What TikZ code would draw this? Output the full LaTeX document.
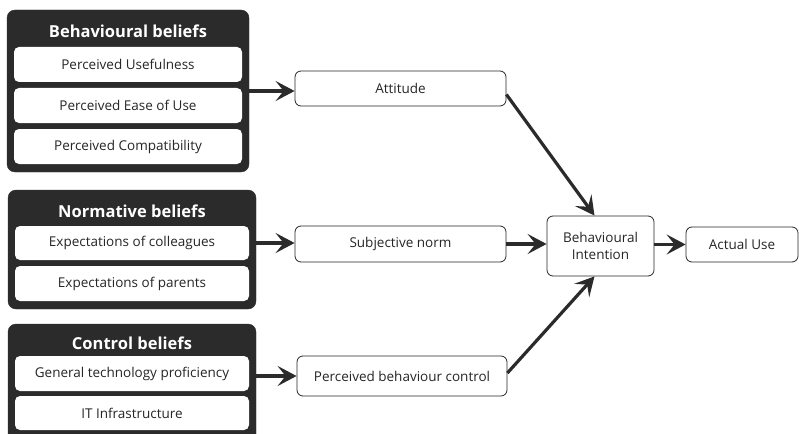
\documentclass[tikz,border=0pt]{standalone}
\usepackage{fontspec}
\setmainfont{Open Sans}
\usetikzlibrary{arrows.meta}
\definecolor{darkbg}{HTML}{2B2B2B}
\definecolor{txt}{HTML}{262626}
\tikzset{
  group/.style={fill=darkbg, draw=darkbg, rounded corners=8pt},
  inner/.style={fill=white, draw=none, rounded corners=5pt, text=txt, font=\fontsize{13.5}{15}\selectfont},
  title/.style={text=white, font=\bfseries\fontsize{16.5}{18}\selectfont},
  cbox/.style={fill=white, draw=txt, line width=0.8pt, rounded corners=6pt, text=txt, font=\fontsize{13.5}{17}\selectfont, align=center},
  conn/.style={line width=3.2pt, draw=darkbg, -{Stealth[length=19pt,width=20pt,inset=8pt]}}
}
\begin{document}
\begin{tikzpicture}[x=1pt,y=-1pt]
\useasboundingbox (0,0) rectangle (799,433);
% group 1
\path[group] (7,10) rectangle (249,172);
\node[title] (t1) at (128,31) {Behavioural beliefs};
\path[inner] (14,47) rectangle (242,82); \node[inner] (pu) at (128,64.5) {Perceived Usefulness};
\path[inner] (14,88) rectangle (242,123); \node[inner] (peou) at (128,105.5) {Perceived Ease of Use};
\path[inner] (14,129) rectangle (242,164); \node[inner] (pc) at (128,146.5) {Perceived Compatibility};
\coordinate (g1) at (249,91);
% group 2
\path[group] (8,190) rectangle (256,309);
\node[title] (t2) at (132,211) {Normative beliefs};
\path[inner] (15,226) rectangle (249,260); \node[inner] (eoc) at (132,243) {Expectations of colleagues};
\path[inner] (15,266) rectangle (249,301); \node[inner] (eop) at (132,283.5) {Expectations of parents};
\coordinate (g2) at (256,243);
% group 3
\path[group] (8,324) rectangle (256,445);
\node[title] (t3) at (132,343) {Control beliefs};
\path[inner] (15,356) rectangle (249,391); \node[inner] (gtp) at (132,373.5) {General technology proficiency};
\path[inner] (15,396) rectangle (249,430); \node[inner] (it) at (132,413) {IT Infrastructure};
\coordinate (g3) at (256,376);
% constructs
\node[cbox, minimum width=211pt, minimum height=35pt] (att) at (400.5,88.5) {Attitude};
\node[cbox, minimum width=211pt, minimum height=36pt] (sn) at (400.5,244) {Subjective norm};
\node[cbox, minimum width=210pt, minimum height=40pt] (pbc) at (402,376) {Perceived behaviour control};
\node[cbox, minimum width=107pt, minimum height=60pt] (bi) at (600.5,246) {Behavioural\\Intention};
\node[cbox, minimum width=112pt, minimum height=35pt] (au) at (742,244.5) {Actual Use};
% connectors
\draw[conn] (g1) -- (att.west |- g1);
\draw[conn] (g2) -- (sn.west |- g2);
\draw[conn] (g3) -- (pbc.west |- g3);
\draw[conn] (att.east) ++(0,6) coordinate (a1) (a1) -- ([xshift=-6pt]bi.north);
\draw[conn] (sn.east) -- (bi.west |- sn.east);
\draw[conn] ([yshift=3pt]pbc.east) -- ([xshift=-6pt]bi.south);
\draw[conn] (bi.east |- au.west) -- (au.west);
\end{tikzpicture}
\end{document}
